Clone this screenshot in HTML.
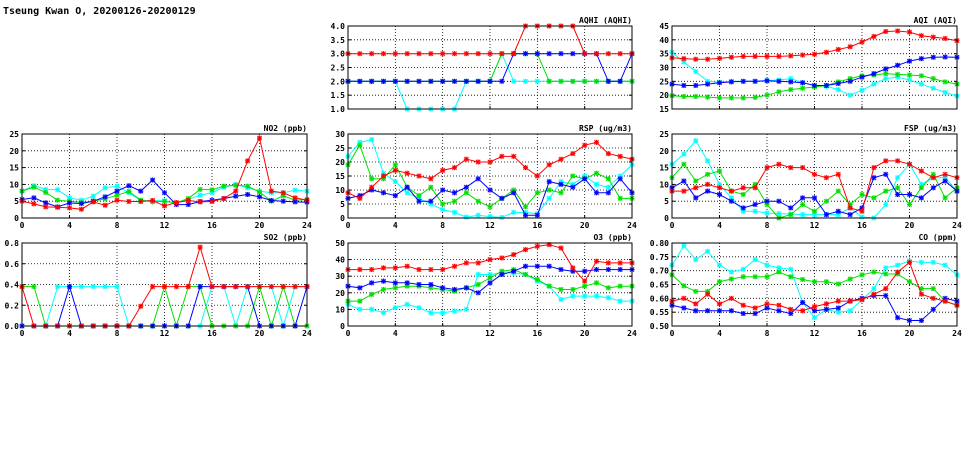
<!DOCTYPE html>
<html><head><meta charset="utf-8">
<style>
body{margin:0;background:#fff;width:975px;height:447px;overflow:hidden;font-family:"DejaVu Sans Mono","Liberation Mono",monospace;}
svg text{font-family:"DejaVu Sans Mono","Liberation Mono",monospace;font-weight:bold;}
</style></head>
<body>
<svg id="chart" width="975" height="447" viewBox="0 0 975 447" xmlns="http://www.w3.org/2000/svg">
<rect x="0" y="0" width="975" height="447" fill="#fff"/>
<text x="3" y="14" font-size="10" fill="#000">Tseung Kwan O, 20200126-20200129</text>
</svg>
<script>
const hours = [0,1,2,3,4,5,6,7,8,9,10,11,12,13,14,15,16,17,18,19,20,21,22,23,24];
const xTicks = [0,4,8,12,16,20,24];
const seriesColors = ["#00ffff","#00e000","#0000ff","#ff0000"];
const seriesNames = ["cyan","green","blue","red"];

const aqhiCyan = [2,2,2,2,2,1,1,1,1,1,2,2,2,3,2,2,2,2,2,2,2,2,2,2,2];
const aqhiGreen = [2,2,2,2,2,2,2,2,2,2,2,2,2,3,3,3,3,2,2,2,2,2,2,2,2];
const aqhiBlue = [2,2,2,2,2,2,2,2,2,2,2,2,2,2,3,3,3,3,3,3,3,3,2,2,3];
const aqhiRed = [3,3,3,3,3,3,3,3,3,3,3,3,3,3,3,4,4,4,4,4,3,3,3,3,3];
const aqhiTicks = ["1.0","1.5","2.0","2.5","3.0","3.5","4.0"];

const aqiCyan = [35.5,32,28.5,25,24.7,25,25,25,25.3,25.5,26,24.5,23.5,23.2,22,20,21.8,24,26,26.5,25.5,24,22.5,21,19.7];
const aqiGreen = [19.8,19.5,19.5,19.3,19,19,19,19.2,20,21.2,22,22.5,23,23.5,24.8,26,27,27.3,27.8,27.5,27.3,27,26,24.8,24];
const aqiBlue = [24,23.5,23.5,24,24.5,24.8,25,25,25.2,25,24.8,24.5,23.5,23.5,24.2,25,26.5,27.8,29.5,30.8,32.3,33.2,33.7,33.8,33.7];
const aqiRed = [33.5,33.2,33,33,33.3,33.7,34,34,34,34,34.2,34.5,34.8,35.5,36.5,37.5,39.2,41.2,43,43.2,42.8,41.5,41,40.5,39.7];
const aqiTicks = ["15","20","25","30","35","40","45"];

const no2Cyan = [8,9.6,8.5,8.4,6,5.3,6.5,9,9.5,7.5,5.2,5.2,5.1,4.4,5.5,6.8,7.5,9.2,10,9,8,7.5,7.5,8.3,8];
const no2Green = [8,9.2,7.6,5.3,5,4.6,5,5.7,6.8,7.9,5.3,4.8,5,4.5,5.8,8.5,8.4,9.5,9.7,9.5,7.7,5,6.6,5.3,5.5];
const no2Blue = [5.5,6,4.5,3.3,4.5,4.3,5,6.3,8,9.6,8,11.3,7.5,4,4,4.9,5.3,5.8,6.5,7,6.3,5.2,5,4.8,4.7];
const no2Red = [5,4.2,3.3,3.2,3,2.6,4.8,3.8,5.3,4.9,4.9,5.2,3.6,4.6,5.2,4.8,4.9,5.8,8,17,23.8,8,7.5,6,5.3];
const no2Ticks = ["0","5","10","15","20","25"];

const rspCyan = [22,27,28,16,13,9,7,5,3,2,0.3,1,0.5,0.2,2,2,1.5,7,13,12,15,12,11,15,19];
const rspGreen = [19,26,14,14,19,11,8,11,5,6,9,6,4,7,10,4,9,10,9,15,14,16,14,7,7];
const rspBlue = [7,8,10,9,8,11,6,6,10,9,11,14,10,7,9,1,1,13,12,11,14,9,9,14,9];
const rspRed = [9,7,11,15,17,16,15,14,17,18,21,20,20,22,22,18,15,19,21,23,26,27,23,22,21];
const rspTicks = ["0","5","10","15","20","25","30"];

const fspCyan = [16,19,23,17,10,6,2,2,1.5,1.3,1.2,1,1,1,1,3,0.3,0,4,12,16,10,12,12,8];
const fspGreen = [12,16,11,13,14,8,7,10,4,0,1,4,2,5,8,4,7,6,8,9,4,9,13,6,9];
const fspBlue = [9,11,6,8,7,5,3,4,5,5,3,6,6,1,2,1,3,12,13,7,7,6,9,11,8];
const fspRed = [8,8,9,10,9,8,9,9,15,16,15,15,13,12,13,3,2,15,17,17,16,14,12,13,12];
const fspTicks = ["0","5","10","15","20","25"];

const so2Cyan = [0,0,0,0.38,0.38,0.38,0.38,0.38,0.38,0,0,0,0,0,0,0,0.38,0.38,0,0.38,0.38,0.38,0,0.38,0.38];
const so2Green = [0.38,0.38,0,0,0,0,0,0,0,0,0,0,0.38,0,0.38,0.38,0,0,0,0,0.38,0,0.38,0,0];
const so2Blue = [0,0,0,0,0.38,0,0,0,0,0,0,0,0,0,0,0.38,0.38,0.38,0.38,0.38,0,0,0,0,0.38];
const so2Red = [0.38,0,0,0,0,0,0,0,0,0,0.19,0.38,0.38,0.38,0.38,0.76,0.38,0.38,0.38,0.38,0.38,0.38,0.38,0.38,0.38];
const so2Ticks = ["0.0","0.2","0.4","0.6","0.8"];

const o3Cyan = [13,10,10,8,11,13,11,8,8,9,10,31,31,32,32,31,27,24,16,18,18,18,17,15,15];
const o3Green = [15,15,19,22,23,24,24,23,22,21,23,25,29,33,34,31,28,24,22,22,24,26,23,24,24];
const o3Blue = [24,23,26,27,26,26,25,25,23,22,23,20,26,31,33,36,36,36,34,33,33,34,34,34,34];
const o3Red = [34,34,34,35,35,36,34,34,34,36,38,38,40,41,43,46,48,49,47,35,27,39,38,38,38];
const o3Ticks = ["0","10","20","30","40","50"];

const coCyan = [0.72,0.79,0.74,0.77,0.72,0.695,0.705,0.74,0.72,0.71,0.705,0.585,0.53,0.56,0.55,0.555,0.595,0.635,0.71,0.72,0.735,0.73,0.73,0.72,0.685];
const coGreen = [0.685,0.645,0.625,0.625,0.66,0.67,0.678,0.678,0.678,0.695,0.678,0.668,0.66,0.66,0.652,0.67,0.685,0.695,0.688,0.688,0.66,0.635,0.635,0.59,0.575];
const coBlue = [0.575,0.565,0.555,0.555,0.555,0.555,0.545,0.545,0.565,0.555,0.545,0.585,0.555,0.56,0.565,0.59,0.6,0.61,0.61,0.53,0.52,0.52,0.56,0.6,0.59];
const coRed = [0.59,0.6,0.58,0.615,0.58,0.6,0.575,0.565,0.58,0.575,0.56,0.555,0.57,0.58,0.59,0.59,0.595,0.615,0.635,0.695,0.73,0.615,0.6,0.59,0.575];
const coTicks = ["0.50","0.55","0.60","0.65","0.70","0.75","0.80"];

const NS = "http://www.w3.org/2000/svg";
const svg = document.getElementById("chart");
function mk(tag, attrs, parent){
  const e = document.createElementNS(NS, tag);
  for (const k in attrs) e.setAttribute(k, attrs[k]);
  (parent||svg).appendChild(e);
  return e;
}

function panel(key, title, x0, y0, x1, y1, ticks, series, showX){
  const g = mk("g", {});
  
  
  const ymin = parseFloat(ticks[0]), ymax = parseFloat(ticks[ticks.length-1]);
  const xs = h => x0 + (x1 - x0) * h / 24;
  const ys = v => y1 - (y1 - y0) * (v - ymin) / (ymax - ymin);
  ticks.forEach((t, i) => {
    const y = ys(parseFloat(t));
    if (i > 0 && i < ticks.length - 1) {
      const gl = mk("line", {x1:x0, x2:x1, y1:y, y2:y, stroke:"#000", "stroke-width":0.8, "stroke-dasharray":"1,2"}, g);
      
      
    }
    const tl = mk("text", {x:x0-3, y:y+3, "font-size":8, "text-anchor":"end", fill:"#000"}, g);
    tl.textContent = t;
    
    
    mk("line", {x1:x0, x2:x0+3, y1:y, y2:y, stroke:"#000"}, g);
    mk("line", {x1:x1-3, x2:x1, y1:y, y2:y, stroke:"#000"}, g);
  });
  xTicks.forEach((h, i) => {
    const x = xs(h);
    if (i > 0 && i < xTicks.length - 1) {
      const gl = mk("line", {x1:x, x2:x, y1:y0, y2:y1, stroke:"#000", "stroke-width":0.8, "stroke-dasharray":"1,2"}, g);
      
      
    }
    mk("line", {x1:x, x2:x, y1:y1-3, y2:y1, stroke:"#000"}, g);
    if (showX) {
      const tl = mk("text", {x:x, y:y1+10, "font-size":8, "text-anchor":"middle", fill:"#000"}, g);
      tl.textContent = String(h);
      
      
    }
  });
  const tt = mk("text", {x:x1, y:y0-3, "font-size":8, "text-anchor":"end", fill:"#000"}, g);
  tt.textContent = title;
  
  
  series.forEach((vals, si) => {
    const col = seriesColors[si];
    const sg = mk("g", {}, g);
    
    
    const pts = vals.map((v, i) => xs(hours[i]).toFixed(1) + "," + ys(v).toFixed(1)).join(" ");
    const pl = mk("polyline", {points:pts, fill:"none", stroke:col, "stroke-width":1}, sg);
    
    
    vals.forEach((v, i) => {
      const cx = xs(hours[i]), cy = ys(v);
      const m = mk("path", {d:`M${cx-2},${cy-2}L${cx+2},${cy+2}M${cx-2},${cy+2}L${cx+2},${cy-2}M${cx-2.5},${cy}L${cx+2.5},${cy}M${cx},${cy-2.5}L${cx},${cy+2.5}`, stroke:col, "stroke-width":1}, sg);
      
      
      mk("rect", {x:cx-2.5, y:cy-2.5, width:5, height:5, fill:col, opacity:0.25}, sg);
    });
  });
  const fr = mk("rect", {x:x0, y:y0, width:x1-x0, height:y1-y0, fill:"none", stroke:"#000", "stroke-width":1}, g);
  
  
}

panel("aqhi","AQHI (AQHI)",348,26,632,109,aqhiTicks,[aqhiCyan,aqhiGreen,aqhiBlue,aqhiRed],false);
panel("aqi","AQI (AQI)",672,26,957,109,aqiTicks,[aqiCyan,aqiGreen,aqiBlue,aqiRed],false);
panel("no2","NO2 (ppb)",22,134,307,218,no2Ticks,[no2Cyan,no2Green,no2Blue,no2Red],true);
panel("rsp","RSP (ug/m3)",348,134,632,218,rspTicks,[rspCyan,rspGreen,rspBlue,rspRed],true);
panel("fsp","FSP (ug/m3)",672,134,957,218,fspTicks,[fspCyan,fspGreen,fspBlue,fspRed],true);
panel("so2","SO2 (ppb)",22,243,307,326,so2Ticks,[so2Cyan,so2Green,so2Blue,so2Red],true);
panel("o3","O3 (ppb)",348,243,632,326,o3Ticks,[o3Cyan,o3Green,o3Blue,o3Red],true);
panel("co","CO (ppm)",672,243,957,326,coTicks,[coCyan,coGreen,coBlue,coRed],true);
</script>
</body></html>
